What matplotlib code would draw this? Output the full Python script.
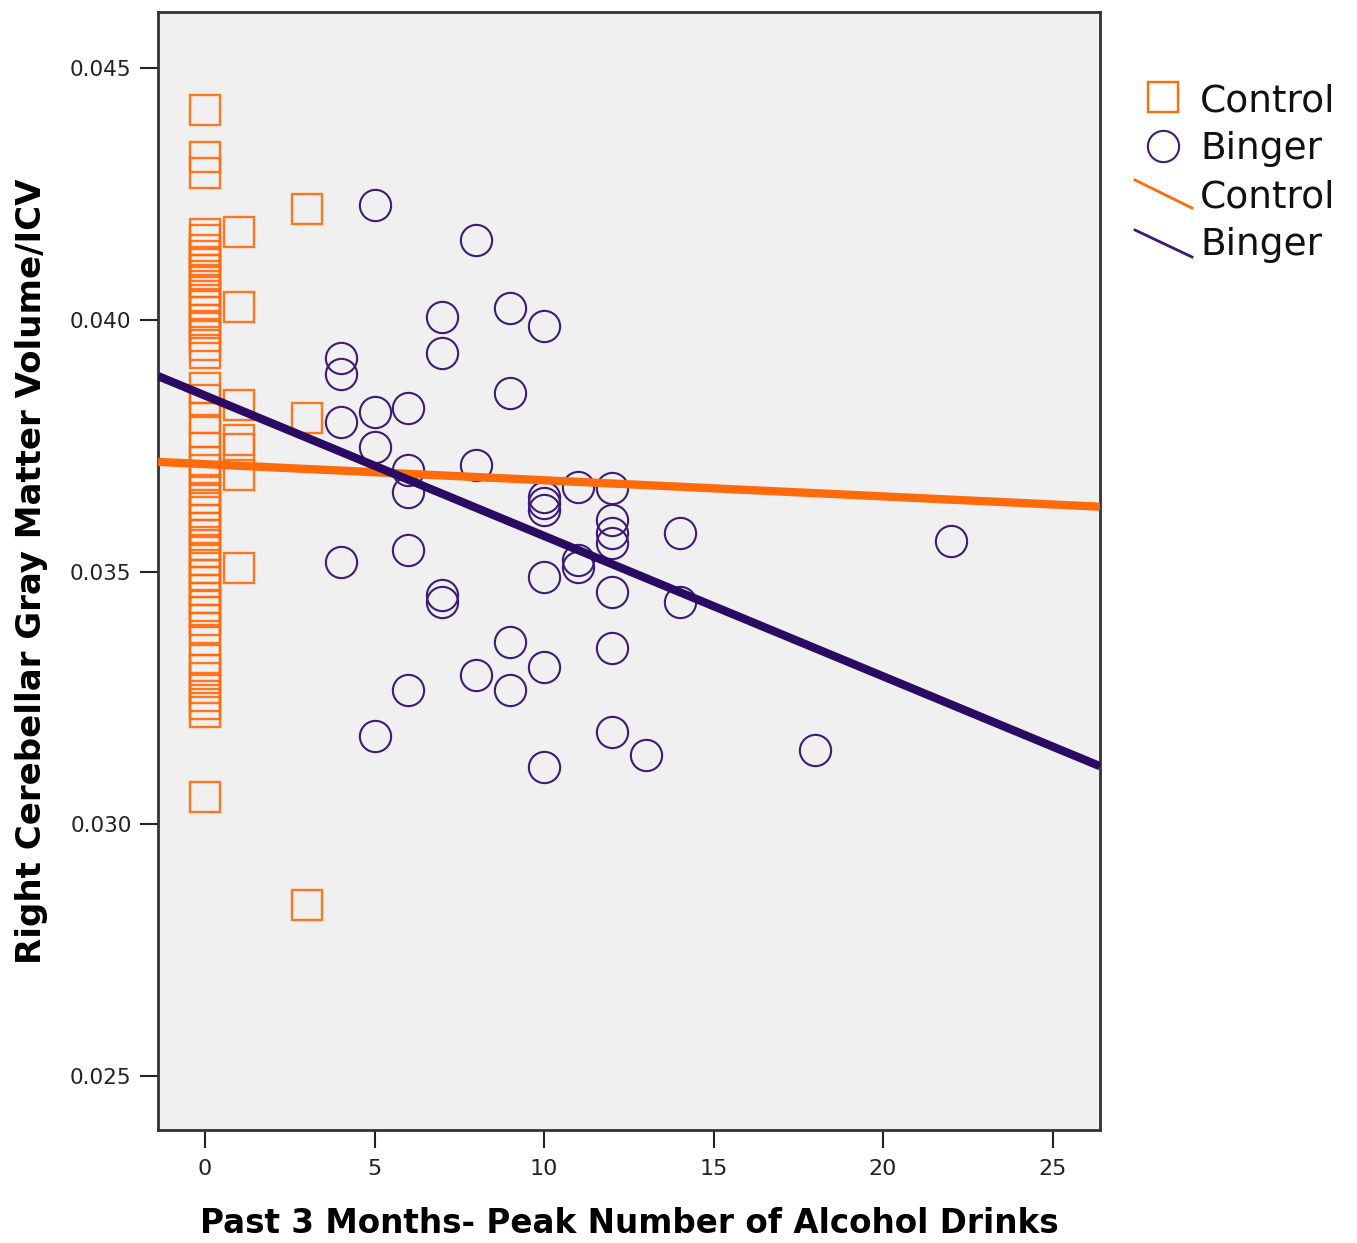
import numpy as np
import matplotlib
matplotlib.use("Agg")
import matplotlib.pyplot as plt
from matplotlib.lines import Line2D

# ---- data ----
control_x = [0] * 56 + [1] * 7 + [3] * 3
control_y = [
    0.04417, 0.04323, 0.04292,
    0.04171, 0.04159, 0.04139, 0.04127, 0.04115, 0.04099, 0.04087, 0.04075,
    0.04060, 0.04048, 0.04032, 0.04016, 0.04000, 0.03984, 0.03968, 0.03950,
    0.03935,
    0.03865, 0.03841, 0.03806, 0.03778, 0.03746, 0.03718, 0.03702, 0.03687,
    0.03663, 0.03647, 0.03633, 0.03619, 0.03603, 0.03587, 0.03573, 0.03554,
    0.03540, 0.03524, 0.03508, 0.03494, 0.03480, 0.03464, 0.03448, 0.03433,
    0.03421, 0.03405, 0.03389, 0.03365, 0.03325, 0.03306, 0.03290, 0.03270,
    0.03254, 0.03238, 0.03222, 0.03054,
    # x = 1
    0.04175, 0.04026, 0.03831, 0.03762, 0.03744, 0.03692, 0.03508,
    # x = 3
    0.04220, 0.03806, 0.02839,
]

binger_x = [4, 4, 4, 4,
            5, 5, 5, 5,
            6, 6, 6, 6, 6,
            7, 7, 7, 7,
            8, 8, 8,
            9, 9, 9, 9,
            10, 10, 10, 10, 10, 10, 10,
            11, 11, 11,
            12, 12, 12, 12, 12, 12, 12,
            13, 14, 14, 18, 22]
binger_y = [0.03925, 0.03893, 0.03798, 0.03520,
            0.04228, 0.03817, 0.03748, 0.03175,
            0.03825, 0.03702, 0.03659, 0.03544, 0.03266,
            0.04006, 0.03935, 0.03454, 0.03440,
            0.04159, 0.03712, 0.03296,
            0.04024, 0.03855, 0.03361, 0.03266,
            0.03988, 0.03649, 0.03637, 0.03623, 0.03490, 0.03312, 0.03113,
            0.03669, 0.03524, 0.03510,
            0.03667, 0.03603, 0.03577, 0.03558, 0.03460, 0.03349, 0.03183,
            0.03137, 0.03577, 0.03440, 0.03147, 0.03562]

# fitted lines (intercept, slope)
control_fit = (0.03714, -0.000032)
binger_fit = (0.03850, -0.0002785)

x_ticks = [0, 5, 10, 15, 20, 25]
y_ticks = [0.025, 0.030, 0.035, 0.040, 0.045]

ORANGE = "#FF6A0A"
PURPLE = "#3D1A78"
PURPLE_LINE = "#2A0A62"

fig = plt.figure(figsize=(13.57, 12.43), dpi=100)
ax = fig.add_axes([158 / 1357, 1 - 1130 / 1243, 942 / 1357, 1118 / 1243])
ax.set_facecolor("#F0F0F0")

xlim = (-1.39, 26.4)
ylim = (0.02393, 0.04611)

ax.plot(control_x, control_y, linestyle="none", marker="s", markersize=22,
        markerfacecolor="none", markeredgecolor=ORANGE, markeredgewidth=1.7,
        alpha=0.9, zorder=2)
ax.plot(binger_x, binger_y, linestyle="none", marker="o", markersize=22.5,
        markerfacecolor="none", markeredgecolor=PURPLE, markeredgewidth=1.5,
        zorder=2)

xs = np.array(xlim)
ax.plot(xs, control_fit[0] + control_fit[1] * xs, color=ORANGE, lw=6,
        solid_capstyle="butt", zorder=3)
ax.plot(xs, binger_fit[0] + binger_fit[1] * xs, color=PURPLE_LINE, lw=6,
        solid_capstyle="butt", zorder=4)

ax.set_xlim(*xlim)
ax.set_ylim(*ylim)
ax.set_xticks(x_ticks)
ax.set_yticks(y_ticks)
ax.set_yticklabels([f"{v:.3f}" for v in y_ticks])
ax.tick_params(axis="y", direction="out", length=13, width=1.5, pad=6,
               labelsize=15.5, colors="#222222")
ax.tick_params(axis="x", direction="out", length=13, width=1.5, pad=8,
               labelsize=16, colors="#222222")
for s in ax.spines.values():
    s.set_linewidth(2)
    s.set_color("#333333")

ax.set_xlabel("Past 3 Months- Peak Number of Alcohol Drinks", fontsize=23.5,
              fontweight="bold", labelpad=20)
ax.set_ylabel("Right Cerebellar Gray Matter Volume/ICV", fontsize=24.5,
              fontweight="bold", labelpad=16)

# legend drawn by hand (line entries are diagonal strokes)
lg = fig.add_axes([0, 0, 1, 1], facecolor="none")
lg.set_xlim(0, 1357)
lg.set_ylim(1243, 0)
lg.axis("off")
lg.plot([1163], [97], marker="s", markersize=22, markerfacecolor="none",
        markeredgecolor=ORANGE, markeredgewidth=1.7)
lg.plot([1163], [146], marker="o", markersize=22.5, markerfacecolor="none",
        markeredgecolor=PURPLE, markeredgewidth=1.5)
lg.add_line(Line2D([1135, 1192], [180, 208], color=ORANGE, lw=2))
lg.add_line(Line2D([1135, 1192], [230, 257], color=PURPLE, lw=2))
for txt, yy in [("Control", 101), ("Binger", 149), ("Control", 197), ("Binger", 245)]:
    lg.text(1200, yy, txt, fontsize=27, va="center", ha="left", color="#111111")

fig.savefig("out.png", dpi=100)
